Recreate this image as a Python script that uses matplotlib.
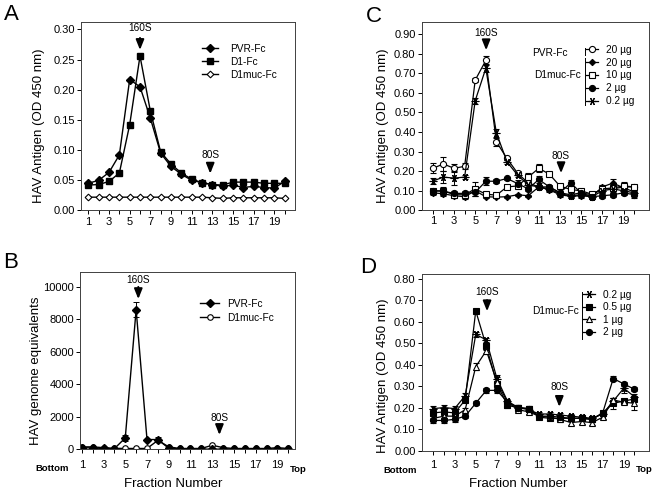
import matplotlib
matplotlib.use('Agg')
import matplotlib.pyplot as plt
from matplotlib.lines import Line2D
import numpy as np

plt.rcParams['font.family'] = ['Liberation Sans', 'DejaVu Sans']

fractions = np.arange(1, 21)
odd_ticks = [1, 3, 5, 7, 9, 11, 13, 15, 17, 19]

# panel A - HAV antigen, OD 450
a_pvr = [0.045, 0.050, 0.063, 0.092, 0.217, 0.205, 0.153, 0.095, 0.073, 0.060,
         0.050, 0.046, 0.043, 0.040, 0.042, 0.038, 0.040, 0.038, 0.037, 0.048]
a_d1 = [0.042, 0.043, 0.048, 0.062, 0.142, 0.256, 0.165, 0.097, 0.077, 0.062,
        0.052, 0.046, 0.043, 0.042, 0.047, 0.047, 0.047, 0.045, 0.045, 0.045]
a_d1muc = [0.022, 0.022, 0.022, 0.022, 0.022, 0.022, 0.022, 0.022, 0.022, 0.022,
           0.022, 0.022, 0.021, 0.020, 0.021, 0.021, 0.021, 0.021, 0.021, 0.020]

# panel B - genome equivalents
b_pvr = [100, 80, 50, 40, 700, 8600, 600, 600, 60, 30,
         30, 20, 0, 20, 20, 20, 20, 20, 20, 20]
b_pvr_err = [0, 0, 0, 0, 200, 450, 50, 150, 0, 0,
             0, 0, 0, 0, 0, 0, 0, 0, 0, 0]
b_d1muc = [150, 150, 100, 60, 50, 50, 50, 550, 150, 50,
           50, 50, 250, 100, 50, 50, 50, 50, 100, 50]

# panel C
c_labels = ['20 \u00b5g', '20 \u00b5g', '10 \u00b5g', '2 \u00b5g', '0.2 \u00b5g']
c_pvr20 = [0.215, 0.237, 0.215, 0.225, 0.665, 0.765, 0.350, 0.265, 0.190, 0.140,
           0.120, 0.120, 0.090, 0.080, 0.090, 0.080, 0.110, 0.110, 0.120, 0.120]
c_pvr20_err = [0.025, 0.035, 0.020, 0.015, 0.010, 0.025, 0.020, 0.010, 0.010, 0.010,
               0.010, 0.005, 0.005, 0.005, 0.005, 0.005, 0.010, 0.010, 0.010, 0.010]
c_muc20 = [0.090, 0.085, 0.075, 0.070, 0.100, 0.070, 0.068, 0.070, 0.080, 0.075,
           0.120, 0.105, 0.080, 0.072, 0.075, 0.070, 0.120, 0.140, 0.115, 0.095]
c_muc20_err = [0.010, 0.010, 0.010, 0.010, 0.010, 0.005, 0.005, 0.005, 0.005, 0.005,
               0.010, 0.010, 0.010, 0.010, 0.010, 0.010, 0.010, 0.020, 0.010, 0.010]
c_muc10 = [0.100, 0.100, 0.080, 0.080, 0.110, 0.083, 0.078, 0.120, 0.125, 0.170,
           0.215, 0.185, 0.124, 0.107, 0.100, 0.083, 0.110, 0.115, 0.125, 0.120]
c_muc10_err = [0.010, 0.010, 0.005, 0.005, 0.035, 0.010, 0.010, 0.010, 0.010, 0.020,
               0.020, 0.010, 0.010, 0.010, 0.010, 0.005, 0.020, 0.020, 0.020, 0.010]
c_muc2 = [0.100, 0.098, 0.087, 0.087, 0.092, 0.149, 0.149, 0.163, 0.137, 0.110,
          0.158, 0.120, 0.090, 0.140, 0.090, 0.070, 0.075, 0.080, 0.090, 0.080]
c_muc2_err = [0.010, 0.020, 0.010, 0.010, 0.020, 0.020, 0.010, 0.010, 0.020, 0.010,
              0.020, 0.010, 0.010, 0.015, 0.010, 0.010, 0.010, 0.010, 0.010, 0.015]
c_muc02 = [0.150, 0.170, 0.165, 0.170, 0.560, 0.725, 0.395, 0.248, 0.180, 0.130,
           0.120, 0.110, 0.085, 0.075, 0.080, 0.070, 0.100, 0.110, 0.100, 0.090]
c_muc02_err = [0.015, 0.030, 0.035, 0.010, 0.015, 0.020, 0.020, 0.010, 0.010, 0.010,
               0.010, 0.010, 0.010, 0.010, 0.010, 0.010, 0.010, 0.020, 0.015, 0.010]

# panel D
d_labels = ['0.2 \u00b5g', '0.5 \u00b5g', '1 \u00b5g', '2 \u00b5g']
d_02 = [0.195, 0.200, 0.195, 0.255, 0.540, 0.515, 0.335, 0.230, 0.200, 0.190,
        0.170, 0.170, 0.165, 0.160, 0.155, 0.150, 0.170, 0.230, 0.290, 0.250]
d_02_err = [0.010, 0.010, 0.010, 0.015, 0.010, 0.010, 0.015, 0.010, 0.010, 0.010,
            0.010, 0.010, 0.010, 0.010, 0.010, 0.010, 0.010, 0.015, 0.020, 0.015]
d_05 = [0.175, 0.180, 0.175, 0.235, 0.650, 0.485, 0.310, 0.210, 0.200, 0.195,
        0.155, 0.150, 0.150, 0.150, 0.150, 0.145, 0.175, 0.220, 0.230, 0.240]
d_05_err = [0.010, 0.010, 0.010, 0.010, 0.010, 0.015, 0.010, 0.010, 0.010, 0.010,
            0.010, 0.010, 0.010, 0.010, 0.010, 0.010, 0.010, 0.025, 0.010, 0.010]
d_1 = [0.150, 0.160, 0.160, 0.190, 0.390, 0.465, 0.320, 0.225, 0.190, 0.180,
       0.160, 0.155, 0.145, 0.130, 0.135, 0.130, 0.155, 0.235, 0.225, 0.220]
d_1_err = [0.010, 0.010, 0.010, 0.010, 0.015, 0.015, 0.020, 0.010, 0.010, 0.010,
           0.010, 0.010, 0.010, 0.010, 0.010, 0.010, 0.010, 0.010, 0.010, 0.030]
d_2 = [0.140, 0.140, 0.145, 0.160, 0.220, 0.280, 0.280, 0.225, 0.200, 0.195,
       0.160, 0.160, 0.155, 0.150, 0.150, 0.145, 0.175, 0.335, 0.310, 0.285]
d_2_err = [0.010, 0.010, 0.010, 0.010, 0.010, 0.010, 0.010, 0.010, 0.010, 0.010,
           0.010, 0.010, 0.010, 0.010, 0.010, 0.010, 0.010, 0.010, 0.010, 0.010]


def style_axes(ax, xlim, ylim, yticks, yfmt, xpad):
    ax.set_xlim(*xlim)
    ax.set_ylim(*ylim)
    ax.set_xticks(fractions, minor=True)
    ax.set_xticks(odd_ticks)
    ax.set_xticklabels([str(t) for t in odd_ticks])
    ax.set_yticks(yticks)
    ax.set_yticklabels([yfmt.format(v) for v in yticks])
    ax.tick_params(axis='both', which='both', direction='out', length=3, width=0.7,
                   labelsize=8)
    ax.tick_params(axis='x', pad=xpad)
    ax.tick_params(axis='y', pad=1.5)
    for s in ax.spines.values():
        s.set_linewidth(0.7)
        s.set_color('0.25')


def sed_arrow(ax, x, y_tip, y_tail, y_text, label):
    ax.annotate('', xy=(x, y_tip), xytext=(x, y_tail),
                arrowprops=dict(arrowstyle='-|>,head_width=0.24,head_length=0.6',
                                color='black', lw=1.4, shrinkA=0, shrinkB=0,
                                mutation_scale=10))
    ax.text(x, y_text, label, ha='center', va='center', fontsize=7.3)


def ylabel(ax, x, y, text):
    ax.text(x, y, text, transform=ax.transAxes, rotation=90, ha='center',
            va='center', fontsize=9.5)


fig = plt.figure(figsize=(6.56, 4.94), dpi=100)
lw = 1.0
eb = dict(capsize=2, elinewidth=0.7, capthick=0.7)
leg_font = 7.3

# ---------------- A ----------------
axA = fig.add_axes([0.124, 0.574, 0.326, 0.381])
axA.plot(fractions, a_pvr, '-', color='black', lw=lw, marker='D', ms=3.6,
         label='PVR-Fc')
axA.plot(fractions, a_d1, '-', color='black', lw=lw, marker='s', ms=5,
         label='D1-Fc')
axA.plot(fractions, a_d1muc, '-', color='black', lw=lw, marker='D', ms=3.4,
         mfc='white', mew=0.8, label='D1muc-Fc')
style_axes(axA, (0.32, 21.03), (0, 0.312), np.arange(0, 0.31, 0.05), '{:.2f}', 1.5)
axA.legend(loc='upper left', bbox_to_anchor=(0.565, 0.885), frameon=False,
           fontsize=leg_font, handlelength=1.6, handletextpad=1.2, labelspacing=0.3,
           borderpad=0, borderaxespad=0, numpoints=1)
sed_arrow(axA, 6, 0.266, 0.286, 0.302, '160S')
sed_arrow(axA, 12.8, 0.061, 0.076, 0.092, '80S')
ylabel(axA, -0.198, 0.45, 'HAV Antigen (OD 450 nm)')

# ---------------- B ----------------
axB = fig.add_axes([0.122, 0.0905, 0.328, 0.358])
hb1 = axB.errorbar(fractions, b_pvr, yerr=b_pvr_err, fmt='-', color='black', lw=lw,
                   marker='D', ms=3.6, **eb)
hb2, = axB.plot(fractions, b_d1muc, '-', color='black', lw=lw, marker='o', ms=4,
                mfc='white', mew=0.8)
style_axes(axB, (0.84, 20.63), (0, 10890), np.arange(0, 10001, 2000), '{:d}', 5)
axB.legend([hb1.lines[0], hb2], ['PVR-Fc', 'D1muc-Fc'], loc='upper left',
           bbox_to_anchor=(0.558, 0.85), frameon=False,
           fontsize=leg_font, handlelength=1.9, handletextpad=0.8, labelspacing=0.35,
           borderpad=0, borderaxespad=0, numpoints=1)
sed_arrow(axB, 6.2, 9250, 10000, 10450, '160S')
sed_arrow(axB, 13.66, 880, 1420, 1900, '80S')
ylabel(axB, -0.205, 0.444, 'HAV genome equivalents')
axB.text(-0.13, -0.111, 'Bottom', transform=axB.transAxes, ha='center',
         va='center', fontsize=6.8, fontweight='bold')
axB.text(1.014, -0.117, 'Top', transform=axB.transAxes, ha='center',
         va='center', fontsize=6.8, fontweight='bold')
axB.text(0.433, -0.196, 'Fraction Number', transform=axB.transAxes, ha='center',
         va='center', fontsize=9.5)

# ---------------- C ----------------
axC = fig.add_axes([0.643, 0.574, 0.346, 0.381])
c_series = [
    (c_pvr20, c_pvr20_err, dict(marker='o', ms=4.4, mfc='white')),
    (c_muc20, c_muc20_err, dict(marker='D', ms=3.2, mfc='black')),
    (c_muc10, c_muc10_err, dict(marker='s', ms=4.4, mfc='white')),
    (c_muc2, c_muc2_err, dict(marker='o', ms=4.4, mfc='black')),
    (c_muc02, c_muc02_err, dict(marker=(6, 2, 90), ms=5.5, mfc='black')),
]
c_handles = []
for vals, err, mk in c_series:
    axC.errorbar(fractions, vals, yerr=err, fmt='-', color='black', lw=0.9,
                 mec='black', mew=0.8, **mk, **eb)
    c_handles.append(Line2D([], [], color='black', lw=0.9, mec='black', mew=0.8, **mk))
style_axes(axC, (-0.04, 21.38), (0, 0.96), np.round(np.arange(0, 0.91, 0.1), 2),
           '{:.2f}', 1)
axC.legend(c_handles, c_labels, loc='upper left', bbox_to_anchor=(0.722, 0.88),
           frameon=False, fontsize=leg_font, handlelength=1.2, handletextpad=0.8,
           labelspacing=0.28, borderpad=0, borderaxespad=0, numpoints=1)
axC.plot([0.718, 0.718], [0.8635, 0.8248], transform=axC.transAxes, color='black',
         lw=0.7, clip_on=False)
axC.plot([0.718, 0.718], [0.8125, 0.5592], transform=axC.transAxes, color='black',
         lw=0.7, clip_on=False)
axC.text(0.642, 0.838, 'PVR-Fc', transform=axC.transAxes, ha='right', va='center',
         fontsize=leg_font)
axC.text(0.702, 0.718, 'D1muc-Fc', transform=axC.transAxes, ha='right',
         va='center', fontsize=leg_font)
sed_arrow(axC, 6.03, 0.817, 0.868, 0.905, '160S')
sed_arrow(axC, 13.1, 0.19, 0.24, 0.28, '80S')
ylabel(axC, -0.169, 0.45, 'HAV Antigen (OD 450 nm)')

# ---------------- D ----------------
axD = fig.add_axes([0.643, 0.088, 0.346, 0.358])
d_series = [
    (d_02, d_02_err, dict(marker=(6, 2, 90), ms=5.5, mfc='black')),
    (d_05, d_05_err, dict(marker='s', ms=4.4, mfc='black')),
    (d_1, d_1_err, dict(marker='^', ms=4.7, mfc='white')),
    (d_2, d_2_err, dict(marker='o', ms=4.4, mfc='black')),
]
d_handles = []
for vals, err, mk in d_series:
    axD.errorbar(fractions, vals, yerr=err, fmt='-', color='black', lw=0.9,
                 mec='black', mew=0.8, **mk, **eb)
    d_handles.append(Line2D([], [], color='black', lw=0.9, mec='black', mew=0.8, **mk))
style_axes(axD, (-0.1, 21.36), (0, 0.823), np.round(np.arange(0, 0.81, 0.1), 2),
           '{:.2f}', 4)
axD.legend(d_handles, d_labels, loc='upper left', bbox_to_anchor=(0.708, 0.91),
           frameon=False, fontsize=leg_font, handlelength=1.2, handletextpad=0.8,
           labelspacing=0.25, borderpad=0, borderaxespad=0, numpoints=1)
axD.plot([0.705, 0.705], [0.896, 0.633], transform=axD.transAxes, color='black',
         lw=0.7, clip_on=False)
axD.text(0.692, 0.789, 'D1muc-Fc', transform=axD.transAxes, ha='right',
         va='center', fontsize=leg_font)
sed_arrow(axD, 6.07, 0.648, 0.70, 0.738, '160S')
sed_arrow(axD, 12.9, 0.203, 0.245, 0.296, '80S')
ylabel(axD, -0.169, 0.425, 'HAV Antigen (OD 450 nm)')
axD.text(-0.095, -0.113, 'Bottom', transform=axD.transAxes, ha='center',
         va='center', fontsize=6.8, fontweight='bold')
axD.text(0.979, -0.11, 'Top', transform=axD.transAxes, ha='center',
         va='center', fontsize=6.8, fontweight='bold')
axD.text(0.424, -0.19, 'Fraction Number', transform=axD.transAxes, ha='center',
         va='center', fontsize=9.5)

# panel letters
for letter, px, py in [('A', 11.7, 15), ('B', 11, 262), ('C', 374, 16), ('D', 368, 267)]:
    fig.text(px / 656, 1 - py / 494, letter, ha='center', va='center', fontsize=16)

plt.savefig('out.png', dpi=100)
